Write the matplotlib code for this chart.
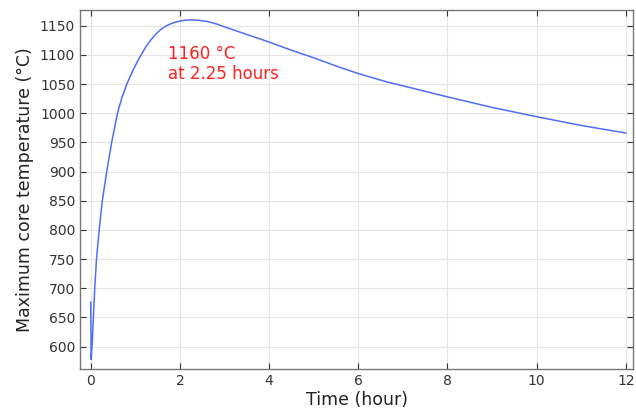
import matplotlib
matplotlib.use("Agg")
import matplotlib.pyplot as plt

time_h = [0, 0.01, 0.03, 0.06, 0.09, 0.13, 0.19, 0.26, 0.36, 0.47, 0.60, 0.70, 0.81, 0.95, 1.05, 1.13,
          1.23, 1.33, 1.45, 1.58, 1.70, 1.85, 2.0, 2.12, 2.25, 2.4, 2.6, 2.8, 3.0, 3.5, 4.0, 4.5,
          5.0, 5.5, 6.0, 6.67, 7.0, 8.0, 9.0, 10.0, 11.0, 12.0]
temp_c = [676, 578, 600, 650, 700, 750, 800, 850, 900, 950, 1000, 1027, 1050, 1074, 1089, 1100,
          1113, 1124, 1135, 1144, 1150, 1155, 1158, 1159.5, 1160, 1159.5, 1157.5, 1153.5, 1148, 1135, 1122, 1108,
          1095, 1081, 1068, 1053, 1047, 1028, 1010, 994, 979, 966]
y_ticks = [600, 650, 700, 750, 800, 850, 900, 950, 1000, 1050, 1100, 1150]
x_ticks = [0, 2, 4, 6, 8, 10, 12]
annot_text = "1160 °C\nat 2.25 hours"

fig = plt.figure(figsize=(6.36, 4.08), dpi=100)
ax = fig.add_axes([0.1258, 0.0956, 0.8695, 0.88])
ax.plot(time_h, temp_c, color="#4f6ef7", lw=1.1)
ax.set_xlim(-0.24, 12.16)
ax.set_ylim(561.6, 1177)
ax.set_xticks(x_ticks)
ax.set_yticks(y_ticks)
ax.grid(True, color="#e6e6e6", lw=0.8)
ax.set_axisbelow(True)
for s in ax.spines.values():
    s.set_color("#777777")
    s.set_linewidth(1.0)
ax.tick_params(direction="in", top=True, right=True, labelsize=10, colors="#333333", length=4)
ax.set_xlabel("Time (hour)", fontsize=12.5, color="#222222", labelpad=2)
ax.set_ylabel("Maximum core temperature (°C)", fontsize=12.5, color="#222222", labelpad=4)
ax.text(1.73, 1085, annot_text, color="#ff2020", fontsize=12, va="center", ha="left", linespacing=1.15)
fig.savefig("out.png", dpi=100)
